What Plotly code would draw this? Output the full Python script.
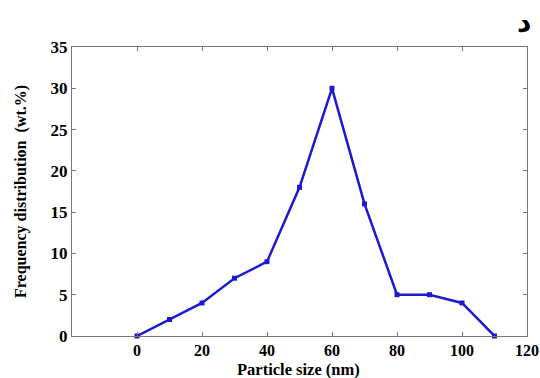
import plotly.graph_objects as go

sizes = [0, 10, 20, 30, 40, 50, 60, 70, 80, 90, 100, 110]
freq = [0, 2, 4, 7, 9, 18, 30, 16, 5, 5, 4, 0]
x_ticks = [0, 20, 40, 60, 80, 100, 120]
y_ticks = [0, 5, 10, 15, 20, 25, 30, 35]

font = "Liberation Serif"
fig = go.Figure()
fig.add_trace(go.Scatter(
    x=sizes, y=freq, mode="lines+markers",
    line=dict(color="#1a1ad0", width=2.5),
    marker=dict(symbol="square", size=5, color="#1a1ad0"),
    showlegend=False, cliponaxis=False,
))
axis_common = dict(
    showline=True, linecolor="#777", linewidth=1, mirror="ticks",
    ticks="inside", ticklen=4, tickcolor="#777", showgrid=False, zeroline=False,
    automargin=False,
    tickfont=dict(family=font, size=17, color="black", weight="bold"),
)
fig.update_xaxes(range=[-20, 120], tickvals=x_ticks, **axis_common)
fig.update_yaxes(range=[0, 35], tickvals=y_ticks, **axis_common)
fig.update_xaxes(tickfont_size=16, ticklabelstandoff=0)

H = 336 - 47
W = 527 - 72
fig.add_annotation(text="<b>Particle size (nm)</b>", xref="paper", yref="paper",
                   x=(298 - 72) / W, y=(336 - 369) / H, xanchor="center", yanchor="middle",
                   showarrow=False, font=dict(family=font, size=16.5, color="black"))
fig.add_annotation(text="<b>Frequency distribution  (wt.%)</b>", xref="paper", yref="paper",
                   x=(21 - 72) / W, y=(336 - 192) / H, xanchor="center", yanchor="middle",
                   textangle=-90, showarrow=False, font=dict(family=font, size=16, color="black"))
fig.add_annotation(text="<b>د</b>", xref="paper", yref="paper",
                   x=(524 - 72) / W, y=(336 - 22) / H,
                   xanchor="center", yanchor="middle", showarrow=False,
                   font=dict(family="DejaVu Sans", size=28, color="black"))
fig.update_layout(width=540, height=378, margin=dict(l=72, r=13, t=47, b=42),
                  plot_bgcolor="white", paper_bgcolor="white")
fig.write_html("out.html")
